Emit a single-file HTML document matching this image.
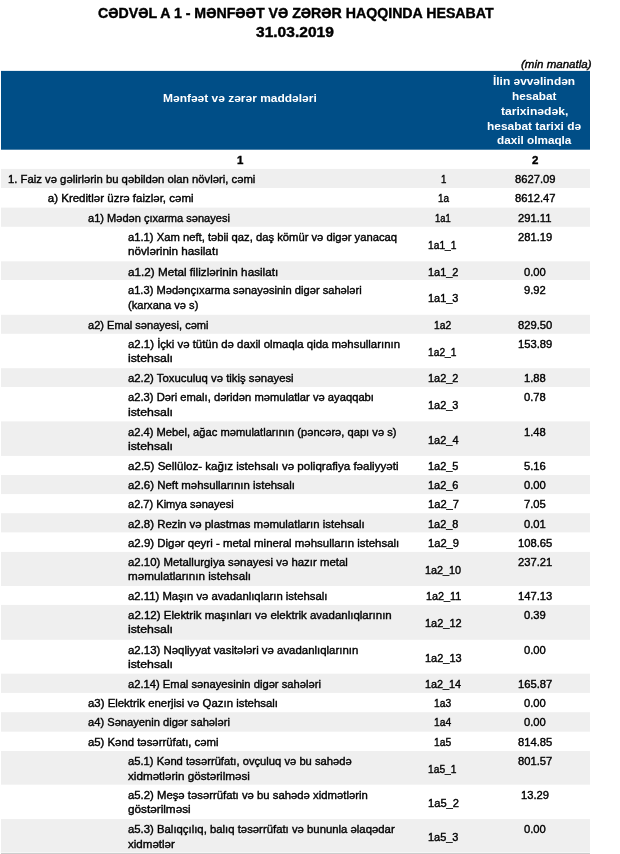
<!DOCTYPE html>
<html lang="az"><head><meta charset="utf-8"><title>Cədvəl A 1</title>
<style>
html,body{margin:0;padding:0;background:#fff}
body{width:620px;height:854px;position:relative;overflow:hidden;font-family:"Liberation Sans",sans-serif;font-size:11.5px;color:#000}
.bg{position:absolute;left:0;top:0;display:block}
.g{background:#efefef}
.h{background:#004e87}
.t{position:absolute;white-space:nowrap;transform-origin:0 0;line-height:14px;-webkit-text-stroke:0.4px currentColor}
.ti{line-height:18px}
.w{color:#fff;font-weight:bold;-webkit-text-stroke:0}
.bd{font-weight:bold}
.ti{font-weight:bold;font-size:14px}
.it{font-style:italic}
</style></head><body>
<svg class="bg" width="620" height="854" viewBox="0 0 620 854">
<rect x="1" y="70.9" width="589" height="78.8" fill="#004e87"/>
<rect x="1" y="168.9" width="589" height="19.1" fill="#efefef"/>
<rect x="1" y="207.6" width="589" height="19.2" fill="#efefef"/>
<rect x="1" y="261.3" width="589" height="18.7" fill="#efefef"/>
<rect x="1" y="314.8" width="589" height="19.0" fill="#efefef"/>
<rect x="1" y="368.2" width="589" height="18.8" fill="#efefef"/>
<rect x="1" y="421.4" width="589" height="34.5" fill="#efefef"/>
<rect x="1" y="475.0" width="589" height="19.1" fill="#efefef"/>
<rect x="1" y="513.2" width="589" height="19.2" fill="#efefef"/>
<rect x="1" y="551.9" width="589" height="34.1" fill="#efefef"/>
<rect x="1" y="604.9" width="589" height="34.9" fill="#efefef"/>
<rect x="1" y="673.7" width="589" height="19.2" fill="#efefef"/>
<rect x="1" y="712.2" width="589" height="19.5" fill="#efefef"/>
<rect x="1" y="751.0" width="589" height="33.7" fill="#efefef"/>
<rect x="1" y="819.1" width="589" height="33.3" fill="#efefef"/>
<rect x="1" y="852.4" width="589" height="0.7" fill="#f4f4f4"/>
<rect x="1" y="853.1" width="589" height="0.9" fill="#c8c8c8"/>
</svg>
<div class="t ti" style="left:97.74px;top:4.00px;transform:scaleX(1.0115)">CƏDVƏL A 1 - MƏNFƏƏT VƏ ZƏRƏR HAQQINDA HESABAT</div>
<div class="t ti" style="left:256.42px;top:23.00px;transform:scaleX(1.1108)">31.03.2019</div>
<div class="t it" style="left:520.65px;top:57.00px;transform:scaleX(1.0036)">(min manatla)</div>
<div class="t w" style="left:162.60px;top:91.00px;transform:scaleX(1.0411)">Mənfəət və zərər maddələri</div>
<div class="t w" style="left:492.73px;top:74.00px;transform:scaleX(1.0353)">İlin əvvəlindən</div>
<div class="t w" style="left:511.58px;top:89.00px;transform:scaleX(1.0235)">hesabat</div>
<div class="t w" style="left:501.36px;top:104.00px;transform:scaleX(1.0528)">tarixinədək,</div>
<div class="t w" style="left:486.76px;top:119.00px;transform:scaleX(1.0365)">hesabat tarixi də</div>
<div class="t w" style="left:496.63px;top:133.00px;transform:scaleX(1.0209)">daxil olmaqla</div>
<div class="t bd" style="left:237.00px;top:153.00px;transform:scaleX(1.0000)">1</div>
<div class="t bd" style="left:532.00px;top:153.00px;transform:scaleX(1.0000)">2</div>
<div class="t" style="left:8.00px;top:172.00px;transform:scaleX(0.9821)">1. Faiz və gəlirlərin bu qəbildən olan növləri, cəmi</div>
<div class="t" style="left:440.65px;top:172.00px;transform:scaleX(0.8416)">1</div>
<div class="t" style="left:514.62px;top:172.00px;transform:scaleX(0.9750)">8627.09</div>
<div class="t" style="left:47.80px;top:191.00px;transform:scaleX(1.0000)">a) Kreditlər üzrə faizlər, cəmi</div>
<div class="t" style="left:437.54px;top:191.00px;transform:scaleX(0.8670)">1a</div>
<div class="t" style="left:514.62px;top:191.00px;transform:scaleX(0.9750)">8612.47</div>
<div class="t" style="left:87.65px;top:211.00px;transform:scaleX(0.9609)">a1) Mədən çıxarma sənayesi</div>
<div class="t" style="left:434.92px;top:211.00px;transform:scaleX(0.8161)">1a1</div>
<div class="t" style="left:517.78px;top:211.00px;transform:scaleX(0.9750)">291.11</div>
<div class="t" style="left:128.41px;top:230.00px;transform:scaleX(0.9764)">a1.1) Xam neft, təbii qaz, daş kömür və digər yanacaq</div>
<div class="t" style="left:128.39px;top:244.00px;transform:scaleX(1.0171)">növlərinin hasilatı</div>
<div class="t" style="left:428.41px;top:238.00px;transform:scaleX(0.8909)">1a1_1</div>
<div class="t" style="left:517.53px;top:230.00px;transform:scaleX(0.9750)">281.19</div>
<div class="t" style="left:128.39px;top:265.00px;transform:scaleX(1.0172)">a1.2) Metal filizlərinin hasilatı</div>
<div class="t" style="left:428.06px;top:265.00px;transform:scaleX(0.9524)">1a1_2</div>
<div class="t" style="left:524.48px;top:265.00px;transform:scaleX(0.9750)">0.00</div>
<div class="t" style="left:128.42px;top:283.00px;transform:scaleX(0.9668)">a1.3) Mədənçıxarma sənayəsinin digər sahələri</div>
<div class="t" style="left:128.42px;top:298.00px;transform:scaleX(0.9653)">(karxana və s)</div>
<div class="t" style="left:428.06px;top:291.00px;transform:scaleX(0.9524)">1a1_3</div>
<div class="t" style="left:524.47px;top:283.00px;transform:scaleX(0.9750)">9.92</div>
<div class="t" style="left:87.65px;top:318.00px;transform:scaleX(0.9620)">a2) Emal sənayesi, cəmi</div>
<div class="t" style="left:434.41px;top:318.00px;transform:scaleX(0.8947)">1a2</div>
<div class="t" style="left:517.55px;top:318.00px;transform:scaleX(0.9750)">829.50</div>
<div class="t" style="left:128.40px;top:337.00px;transform:scaleX(0.9918)">a2.1) İçki və tütün də daxil olmaqla qida məhsullarının</div>
<div class="t" style="left:128.36px;top:351.00px;transform:scaleX(1.0673)">istehsalı</div>
<div class="t" style="left:428.41px;top:345.00px;transform:scaleX(0.8909)">1a2_1</div>
<div class="t" style="left:517.53px;top:337.00px;transform:scaleX(0.9750)">153.89</div>
<div class="t" style="left:128.41px;top:371.00px;transform:scaleX(0.9865)">a2.2) Toxuculuq və tikiş sənayesi</div>
<div class="t" style="left:428.06px;top:371.00px;transform:scaleX(0.9524)">1a2_2</div>
<div class="t" style="left:524.00px;top:371.00px;transform:scaleX(0.9750)">1.88</div>
<div class="t" style="left:128.41px;top:390.00px;transform:scaleX(0.9741)">a2.3) Dəri emalı, dəridən məmulatlar və ayaqqabı</div>
<div class="t" style="left:128.36px;top:405.00px;transform:scaleX(1.0673)">istehsalı</div>
<div class="t" style="left:428.06px;top:398.00px;transform:scaleX(0.9524)">1a2_3</div>
<div class="t" style="left:524.48px;top:390.00px;transform:scaleX(0.9750)">0.78</div>
<div class="t" style="left:128.41px;top:425.00px;transform:scaleX(0.9700)">a2.4) Mebel, ağac məmulatlarının (pəncərə, qapı və s)</div>
<div class="t" style="left:128.36px;top:439.00px;transform:scaleX(1.0673)">istehsalı</div>
<div class="t" style="left:428.09px;top:433.00px;transform:scaleX(0.9534)">1a2_4</div>
<div class="t" style="left:524.00px;top:425.00px;transform:scaleX(0.9750)">1.48</div>
<div class="t" style="left:128.39px;top:459.00px;transform:scaleX(1.0075)">a2.5) Sellüloz- kağız istehsalı və poliqrafiya fəaliyyəti</div>
<div class="t" style="left:428.06px;top:459.00px;transform:scaleX(0.9524)">1a2_5</div>
<div class="t" style="left:524.48px;top:459.00px;transform:scaleX(0.9750)">5.16</div>
<div class="t" style="left:128.40px;top:478.00px;transform:scaleX(0.9925)">a2.6) Neft məhsullarının istehsalı</div>
<div class="t" style="left:428.06px;top:478.00px;transform:scaleX(0.9524)">1a2_6</div>
<div class="t" style="left:524.48px;top:478.00px;transform:scaleX(0.9750)">0.00</div>
<div class="t" style="left:128.42px;top:497.00px;transform:scaleX(0.9611)">a2.7) Kimya sənayesi</div>
<div class="t" style="left:428.06px;top:497.00px;transform:scaleX(0.9682)">1a2_7</div>
<div class="t" style="left:524.48px;top:497.00px;transform:scaleX(0.9750)">7.05</div>
<div class="t" style="left:128.40px;top:517.00px;transform:scaleX(0.9926)">a2.8) Rezin və plastmas məmulatların istehsalı</div>
<div class="t" style="left:428.06px;top:517.00px;transform:scaleX(0.9524)">1a2_8</div>
<div class="t" style="left:524.48px;top:517.00px;transform:scaleX(0.9750)">0.01</div>
<div class="t" style="left:128.40px;top:536.00px;transform:scaleX(0.9963)">a2.9) Digər qeyri - metal mineral məhsulların istehsalı</div>
<div class="t" style="left:428.06px;top:536.00px;transform:scaleX(0.9682)">1a2_9</div>
<div class="t" style="left:517.55px;top:536.00px;transform:scaleX(0.9750)">108.65</div>
<div class="t" style="left:128.41px;top:555.00px;transform:scaleX(0.9910)">a2.10) Metallurgiya sənayesi və hazır metal</div>
<div class="t" style="left:128.39px;top:569.00px;transform:scaleX(1.0126)">məmulatlarının istehsalı</div>
<div class="t" style="left:424.53px;top:563.00px;transform:scaleX(0.9411)">1a2_10</div>
<div class="t" style="left:517.55px;top:555.00px;transform:scaleX(0.9750)">237.21</div>
<div class="t" style="left:128.41px;top:589.00px;transform:scaleX(0.9851)">a2.11) Maşın və avadanlıqların istehsalı</div>
<div class="t" style="left:425.53px;top:589.00px;transform:scaleX(0.9392)">1a2_11</div>
<div class="t" style="left:517.55px;top:589.00px;transform:scaleX(0.9750)">147.13</div>
<div class="t" style="left:128.40px;top:608.00px;transform:scaleX(0.9991)">a2.12) Elektrik maşınları və elektrik avadanlıqlarının</div>
<div class="t" style="left:128.36px;top:622.00px;transform:scaleX(1.0673)">istehsalı</div>
<div class="t" style="left:424.53px;top:616.00px;transform:scaleX(0.9540)">1a2_12</div>
<div class="t" style="left:524.48px;top:608.00px;transform:scaleX(0.9750)">0.39</div>
<div class="t" style="left:128.40px;top:643.00px;transform:scaleX(0.9924)">a2.13) Nəqliyyat vasitələri və avadanlıqlarının</div>
<div class="t" style="left:128.36px;top:657.00px;transform:scaleX(1.0673)">istehsalı</div>
<div class="t" style="left:424.53px;top:651.00px;transform:scaleX(0.9540)">1a2_13</div>
<div class="t" style="left:524.48px;top:643.00px;transform:scaleX(0.9750)">0.00</div>
<div class="t" style="left:128.41px;top:677.00px;transform:scaleX(0.9734)">a2.14) Emal sənayesinin digər sahələri</div>
<div class="t" style="left:424.53px;top:677.00px;transform:scaleX(0.9411)">1a2_14</div>
<div class="t" style="left:517.53px;top:677.00px;transform:scaleX(0.9750)">165.87</div>
<div class="t" style="left:87.65px;top:696.00px;transform:scaleX(0.9908)">a3) Elektrik enerjisi və Qazın istehsalı</div>
<div class="t" style="left:434.41px;top:696.00px;transform:scaleX(0.8947)">1a3</div>
<div class="t" style="left:524.48px;top:696.00px;transform:scaleX(0.9750)">0.00</div>
<div class="t" style="left:87.65px;top:715.00px;transform:scaleX(0.9692)">a4) Sənayenin digər sahələri</div>
<div class="t" style="left:434.41px;top:715.00px;transform:scaleX(0.8947)">1a4</div>
<div class="t" style="left:524.48px;top:715.00px;transform:scaleX(0.9750)">0.00</div>
<div class="t" style="left:87.65px;top:735.00px;transform:scaleX(0.9867)">a5) Kənd təsərrüfatı, cəmi</div>
<div class="t" style="left:434.41px;top:735.00px;transform:scaleX(0.8947)">1a5</div>
<div class="t" style="left:517.55px;top:735.00px;transform:scaleX(0.9750)">814.85</div>
<div class="t" style="left:128.41px;top:754.00px;transform:scaleX(0.9749)">a5.1) Kənd təsərrüfatı, ovçuluq və bu sahədə</div>
<div class="t" style="left:128.40px;top:769.00px;transform:scaleX(1.0146)">xidmətlərin göstərilməsi</div>
<div class="t" style="left:428.41px;top:762.00px;transform:scaleX(0.8909)">1a5_1</div>
<div class="t" style="left:517.53px;top:754.00px;transform:scaleX(0.9750)">801.57</div>
<div class="t" style="left:128.41px;top:788.00px;transform:scaleX(0.9846)">a5.2) Meşə təsərrüfatı və bu sahədə xidmətlərin</div>
<div class="t" style="left:128.38px;top:802.00px;transform:scaleX(1.0211)">göstərilməsi</div>
<div class="t" style="left:428.06px;top:796.00px;transform:scaleX(0.9682)">1a5_2</div>
<div class="t" style="left:521.07px;top:788.00px;transform:scaleX(0.9750)">13.29</div>
<div class="t" style="left:128.41px;top:822.00px;transform:scaleX(0.9861)">a5.3) Balıqçılıq, balıq təsərrüfatı və bununla əlaqədar</div>
<div class="t" style="left:128.40px;top:837.00px;transform:scaleX(1.0053)">xidmətlər</div>
<div class="t" style="left:428.06px;top:830.00px;transform:scaleX(0.9524)">1a5_3</div>
<div class="t" style="left:524.48px;top:822.00px;transform:scaleX(0.9750)">0.00</div>
</body></html>
